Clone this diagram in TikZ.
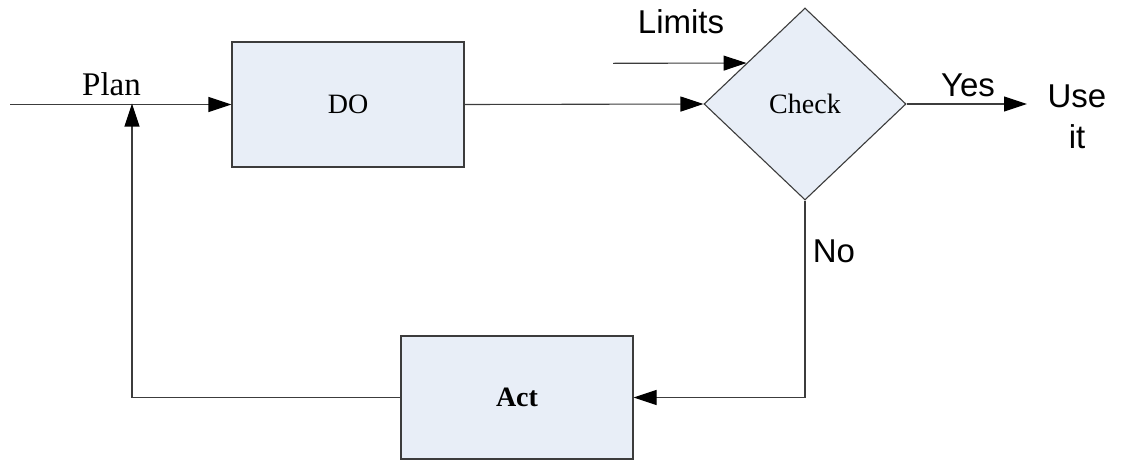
\documentclass[tikz,border=0pt]{standalone}
\usepackage{fontspec}
\setmainfont{Liberation Serif}
\newfontfamily\labelsans{Liberation Sans}
\usetikzlibrary{arrows.meta,shapes.geometric}
\definecolor{boxfill}{RGB}{232,238,247}
\definecolor{linegray}{RGB}{60,60,60}
\begin{document}
\begin{tikzpicture}[x=1pt,y=-1pt,
  flow/.style={draw=linegray,line width=1.1pt},
  arr/.style={flow,-{Triangle[length=23pt,width=15pt,color=black]}},
  block/.style={draw=linegray,line width=1.1pt,fill=boxfill,rectangle,
    minimum width=232pt,inner sep=0pt,font=\fontsize{28}{30}\selectfont},
  decision/.style={draw=linegray,line width=1.1pt,fill=boxfill,diamond,
    minimum width=202pt,minimum height=192pt,inner sep=0pt,
    font=\fontsize{28}{30}\selectfont},
  tag/.style={anchor=base,inner sep=0pt,font=\labelsans\fontsize{33}{36}\selectfont},
  serif tag/.style={anchor=base,inner sep=0pt,font=\fontsize{33}{36}\selectfont}]
  \useasboundingbox (0,0) rectangle (1121,461);

  % process blocks
  \node[block,minimum height=125pt] (do) at (348,104.5) {DO};
  \node[decision] (check) at (805,104) {Check};
  \node[block,minimum height=123pt,font=\bfseries\fontsize{28}{30}\selectfont] (act) at (517,397.5) {Act};

  % free ends of the open connectors
  \coordinate (planin) at (10,104.5);
  \coordinate (limin) at (613,63.3);
  \coordinate (yesout) at (1027,104);
  \coordinate (merge) at (132,104.5);

  % connectors
  \draw[arr] (planin) -- (do.west);
  \draw[arr] (do.east) -- (check.west);
  \draw[arr] (limin) -- (check.145);
  \draw[arr] (check.east) -- (yesout);
  \draw[arr] (check.south) |- (act.east);
  \draw[arr] (act.west) -| ([yshift=1pt]merge);

  % labels
  \node[serif tag] (plan) at (111.5,95) {Plan};
  \node[tag] (limits) at (681,33) {Limits};
  \node[tag] (yes) at (968,96) {Yes};
  \node[tag] (no) at (834,262) {No};
  \node[tag] (use) at (1077,107) {Use};
  \node[tag] (it) at (1077,148) {it};
\end{tikzpicture}
\end{document}
